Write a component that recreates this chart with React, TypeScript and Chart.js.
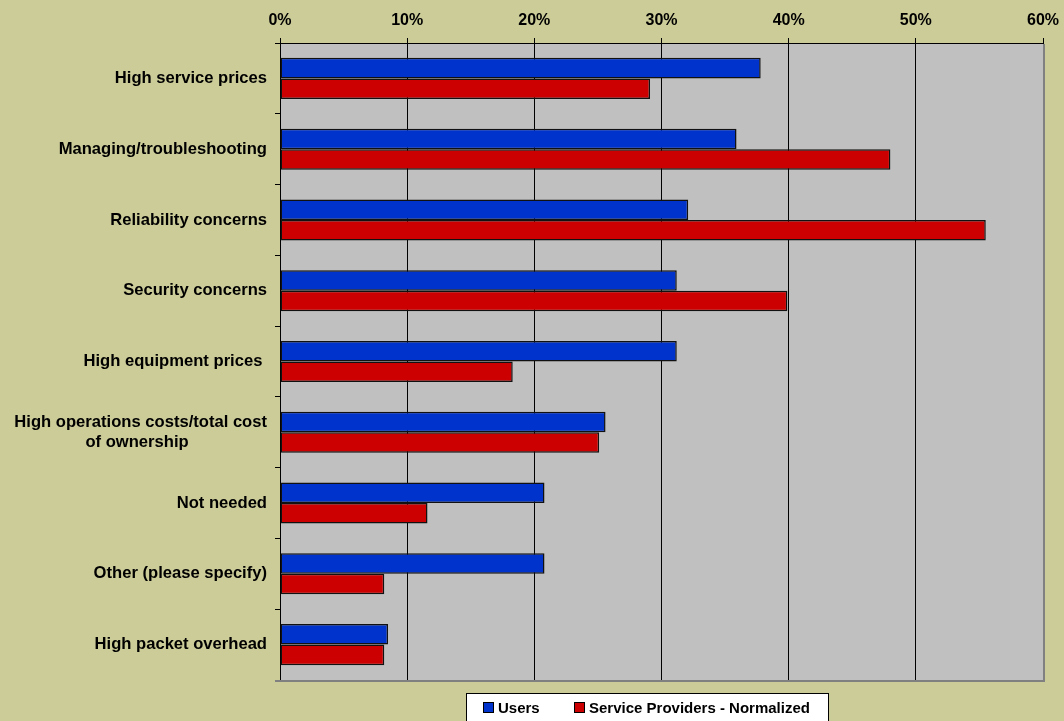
import React, { useEffect, useRef } from "react";
import { Chart, registerables } from "chart.js";

Chart.register(...registerables);

const categories: (string | string[])[] = [
  "High service prices",
  "Managing/troubleshooting",
  "Reliability concerns",
  "Security concerns",
  "High equipment prices ",
  ["High operations costs/total cost", "of ownership" + "\u00a0".repeat(17)],
  "Not needed",
  "Other (please specify)",
  "High packet overhead",
];

const usersValues = [37.8, 35.9, 32.1, 31.2, 31.2, 25.6, 20.8, 20.8, 8.5];
const providersValues = [29.1, 48.0, 55.5, 39.9, 18.3, 25.1, 11.6, 8.2, 8.2];

const seriesNames = ["Users", "Service Providers - Normalized"];
const xTickMax = 60;
const xTickStep = 10;

const FONT = "'Liberation Sans', Arial, sans-serif";

const plotBgPlugin = {
  id: "plotBg",
  beforeDraw(chart: any) {
    const { ctx, chartArea } = chart;
    ctx.save();
    ctx.fillStyle = "#C0C0C0";
    ctx.fillRect(chartArea.left, chartArea.top, chartArea.right - chartArea.left, chartArea.bottom - chartArea.top);
    ctx.restore();
  },
  afterDraw(chart: any) {
    const { ctx, chartArea } = chart;
    ctx.save();
    ctx.strokeStyle = "#808080";
    ctx.lineWidth = 2;
    ctx.beginPath();
    ctx.moveTo(chartArea.left - 5, Math.round(chartArea.bottom) + 1);
    ctx.lineTo(Math.round(chartArea.right) + 1, Math.round(chartArea.bottom) + 1);
    ctx.lineTo(Math.round(chartArea.right) + 1, Math.round(chartArea.top) + 1);
    ctx.stroke();

    // legend
    const bx = 466, by = 693, bw = 362, bh = 40;
    ctx.fillStyle = "#FFFFFF";
    ctx.fillRect(bx, by, bw, bh);
    ctx.strokeStyle = "#000000";
    ctx.lineWidth = 1;
    ctx.strokeRect(bx + 0.5, by + 0.5, bw, bh);
    const ds = chart.data.datasets;
    const items = [
      { x: 483, color: ds[0].backgroundColor, label: ds[0].label },
      { x: 574, color: ds[1].backgroundColor, label: ds[1].label },
    ];
    ctx.font = `bold 15px ${FONT}`;
    ctx.textBaseline = "middle";
    ctx.textAlign = "left";
    for (const it of items) {
      ctx.fillStyle = it.color;
      ctx.fillRect(it.x, 702, 11, 11);
      ctx.strokeStyle = "#000";
      ctx.strokeRect(it.x + 0.5, 702.5, 10, 10);
      ctx.fillStyle = "#000";
      ctx.fillText(it.label, it.x + 15, 709);
    }
    ctx.restore();
  },
};

export default function App() {
  const ref = useRef<HTMLCanvasElement | null>(null);
  useEffect(() => {
    if (!ref.current) return;
    const chart = new Chart(ref.current, {
      type: "bar",
      data: {
        labels: categories,
        datasets: [
          {
            label: seriesNames[0],
            data: usersValues,
            backgroundColor: "#0033CC",
            borderColor: "#111111",
            borderWidth: 1.5,
            borderSkipped: false,
            categoryPercentage: 0.58,
            barPercentage: 1,
          },
          {
            label: seriesNames[1],
            data: providersValues,
            backgroundColor: "#CC0000",
            borderColor: "#111111",
            borderWidth: 1.5,
            borderSkipped: false,
            categoryPercentage: 0.58,
            barPercentage: 1,
          },
        ],
      },
      options: {
        indexAxis: "y",
        animation: false,
        responsive: true,
        maintainAspectRatio: false,
        layout: { padding: { left: 0, right: 21, top: 0, bottom: 41 } },
        plugins: {
          legend: { display: false },
          tooltip: { enabled: false },
        },
        scales: {
          x: {
            position: "top",
            min: 0,
            max: xTickMax,
            ticks: {
              stepSize: xTickStep,
              callback: (v: any) => v + "%",
              color: "#000",
              font: { family: FONT, size: 16, weight: "bold" },
              padding: 8,
            },
            grid: {
              color: (c: any) => (c.tick && c.tick.value === xTickMax ? "rgba(0,0,0,0)" : "#000000"),
              tickColor: "#000000",
              lineWidth: 1,
              tickLength: 5,
            },
            border: { color: "#000", width: 1 },
            afterFit: (s: any) => {
              s.height = 43;
              s.paddingRight = 0;
              s.paddingLeft = 0;
            },
          },
          y: {
            ticks: {
              color: "#000",
              font: { family: FONT, size: 16.6, weight: "bold" },
              padding: 8,
            },
            grid: {
              drawOnChartArea: false,
              color: "#000",
              tickLength: 5,
              offset: true,
            },
            border: { color: "#000", width: 1 },
            afterFit: (s: any) => {
              s.width = 280;
              s.paddingTop = 0;
              s.paddingBottom = 0;
            },
          },
        },
      },
      plugins: [plotBgPlugin],
    });
    return () => chart.destroy();
  }, []);
  return (
    <div
      style={{
        position: "fixed",
        left: 0,
        top: 0,
        width: 1064,
        height: 721,
        background: "#CCCC99",
        overflow: "hidden",
      }}
    >
      <canvas ref={ref} />
    </div>
  );
}
